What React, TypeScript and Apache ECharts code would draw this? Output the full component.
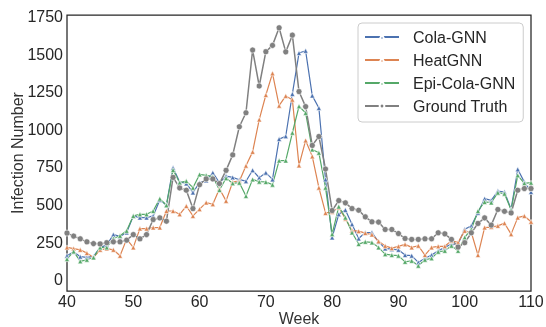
import React, { useEffect, useRef } from "react";
import * as echarts from "echarts";

const weeks = [
  40, 41, 42, 43, 44, 45, 46, 47, 48, 49, 50, 51, 52, 53, 54, 55, 56, 57, 58, 59,
  60, 61, 62, 63, 64, 65, 66, 67, 68, 69, 70, 71, 72, 73, 74, 75, 76, 77, 78, 79,
  80, 81, 82, 83, 84, 85, 86, 87, 88, 89, 90, 91, 92, 93, 94, 95, 96, 97, 98, 99,
  100, 101, 102, 103, 104, 105, 106, 107, 108, 109, 110,
];

const colaGNN = [
  160, 186, 153, 148, 155, 215, 230, 300, 288, 314, 424, 413, 413, 424, 530, 497, 744, 650, 640, 580,
  645, 660, 712, 645, 689, 680, 665, 655, 728, 678, 712, 667, 935, 954, 1235, 1507, 1522, 1224, 1142, 667,
  281, 435, 464, 369, 274, 314, 314, 252, 208, 203, 199, 164, 160, 115, 142, 164, 192, 215, 237, 237,
  336, 358, 446, 539, 528, 590, 583, 469, 734, 649, 583,
];

const heatGNN = [
  215, 207, 199, 177, 148, 199, 207, 199, 159, 270, 215, 340, 340, 347, 347, 457, 457, 435, 490, 424,
  469, 513, 502, 605, 524, 650, 655, 758, 850, 1065, 1228, 1372, 1157, 1222, 1197, 760, 926, 820, 612, 444,
  450, 480, 405, 327, 323, 310, 300, 255, 225, 210, 222, 235, 215, 226, 164, 215, 222, 222, 259, 248,
  325, 314, 164, 347, 350, 358, 376, 303, 413, 424, 385,
];

const epiColaGNN = [
  137, 188, 122, 133, 148, 215, 215, 274, 292, 325, 424, 435, 435, 457, 539, 495, 729, 645, 656, 612,
  700, 694, 685, 597, 675, 641, 645, 557, 667, 652, 650, 632, 792, 792, 977, 1153, 1109, 866, 844, 612,
  303, 486, 413, 314, 237, 252, 248, 215, 170, 164, 160, 119, 126, 93, 133, 142, 186, 192, 226, 192,
  281, 336, 457, 517, 513, 579, 572, 464, 694, 641, 645,
];

const groundTruth = [
  310, 290, 272, 252, 240, 238, 246, 252, 252, 263, 300, 272, 300, 400, 411, 389, 680, 610, 595, 473,
  632, 670, 670, 639, 727, 830, 1017, 1110, 1527, 1288, 1516, 1558, 1675, 1515, 1626, 1251, 1151, 893, 952, 736,
  460, 526, 511, 473, 462, 418, 385, 383, 334, 334, 307, 274, 268, 268, 272, 272, 312, 305, 268, 217,
  246, 312, 374, 411, 363, 467, 455, 444, 595, 606, 606,
];

const yTicks = [0, 250, 500, 750, 1000, 1250, 1500, 1750];

const FONT = "'Liberation Sans', Arial, sans-serif";

export default function App() {
  const ref = useRef<HTMLDivElement>(null);

  useEffect(() => {
    if (!ref.current) return;
    const chart = echarts.init(ref.current, null, { renderer: "svg" });

    const mk = (
      name: string,
      vals: number[],
      color: string,
      symbol: string,
      size: number,
      lw: number
    ) => ({
      name,
      type: "line",
      data: weeks.map((w, i) => [w, vals[i]]),
      symbol,
      symbolSize: size,
      showSymbol: true,
      showAllSymbol: true,
      lineStyle: { color, width: lw },
      itemStyle: { color, borderColor: "#ffffff", borderWidth: 0.6 },
      emphasis: { disabled: true },
    });

    chart.setOption({
      animation: false,
      grid: {
        left: 67,
        right: 15,
        top: 15,
        bottom: 36,
        containLabel: false,
        outerBoundsMode: "none",
        show: true,
        borderColor: "#262626",
        borderWidth: 1.25,
        backgroundColor: "transparent",
      },
      xAxis: {
        type: "value",
        min: 40,
        max: 110,
        interval: 10,
        name: "Week",
        nameLocation: "middle",
        nameGap: 19,
        nameMoveOverlap: false,
        nameTextStyle: { fontSize: 16, color: "#333333", fontFamily: FONT },
        axisLine: { show: false },
        axisTick: { show: false },
        splitLine: { show: false },
        axisLabel: {
          margin: 2,
          fontSize: 16,
          color: "#262626",
          fontFamily: FONT,
          formatter: (v: number) => String(v),
        },
      },
      yAxis: {
        type: "value",
        min: -75,
        max: 1760,
        name: "Infection Number",
        nameLocation: "middle",
        nameGap: 42,
        nameMoveOverlap: false,
        nameTextStyle: { fontSize: 16, color: "#333333", fontFamily: FONT },
        axisLine: { show: false },
        axisTick: { show: false },
        splitLine: { show: false },
        axisLabel: {
          customValues: yTicks,
          margin: 4,
          fontSize: 16,
          color: "#262626",
          fontFamily: FONT,
          formatter: (v: number) => String(v),
        },
      },
      legend: {
        orient: "vertical",
        left: 358,
        top: 23,
        padding: [6, 8, 8, 6],
        itemWidth: 34,
        itemHeight: 6,
        itemGap: 7,
        backgroundColor: "rgba(255,255,255,0.85)",
        borderColor: "#cccccc",
        borderWidth: 1,
        borderRadius: 4,
        textStyle: { fontSize: 16, color: "#262626", fontFamily: FONT, padding: [0, 0, 0, 9] },
        data: ["Cola-GNN", "HeatGNN", "Epi-Cola-GNN", "Ground Truth"],
      },
      series: [
        mk("Cola-GNN", colaGNN, "#4c72b0", "triangle", 5, 1.2),
        mk("HeatGNN", heatGNN, "#dd8452", "triangle", 5, 1.2),
        mk("Epi-Cola-GNN", epiColaGNN, "#55a868", "triangle", 5, 1.2),
        mk("Ground Truth", groundTruth, "#808080", "circle", 6, 1.5),
      ],
    });

    return () => chart.dispose();
  }, []);

  return (
    <div
      ref={ref}
      style={{ position: "fixed", left: 0, top: 0, width: 546, height: 327 }}
    />
  );
}
